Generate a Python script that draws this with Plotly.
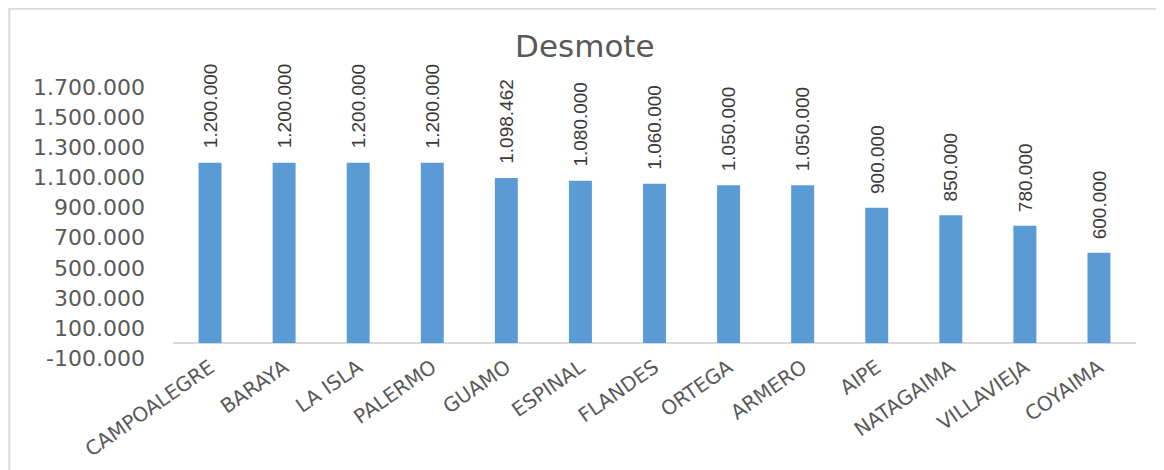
import plotly.graph_objects as go

municipios = [
    "CAMPOALEGRE", "BARAYA", "LA ISLA", "PALERMO", "GUAMO", "ESPINAL",
    "FLANDES", "ORTEGA", "ARMERO", "AIPE", "NATAGAIMA", "VILLAVIEJA", "COYAIMA",
]
desmote = [
    1200000, 1200000, 1200000, 1200000, 1098462, 1080000,
    1060000, 1050000, 1050000, 900000, 850000, 780000, 600000,
]
y_ticks = [-100000, 100000, 300000, 500000, 700000, 900000,
           1100000, 1300000, 1500000, 1700000]


def fmt(v):
    # miles con punto, como en el original
    return f"{v:,}".replace(",", ".")


bar_color = "#5B9BD5"
text_gray = "#595959"

fig = go.Figure()
fig.add_trace(
    go.Bar(
        x=municipios,
        y=desmote,
        marker_color=bar_color,
        marker_line_width=0,
        hovertemplate="%{x}: %{y:,.0f}<extra></extra>",
    )
)

# etiquetas de datos verticales sobre cada barra
for m, v in zip(municipios, desmote):
    fig.add_annotation(
        x=m,
        y=v,
        text=fmt(v),
        textangle=-90,
        showarrow=False,
        xanchor="center",
        yanchor="bottom",
        yshift=12,
        font=dict(family="Liberation Sans", size=19, color="#3a3a3a"),
    )

# the page body adds an 8px offset, so the figure is a bit smaller
fig.update_layout(
    width=1156,
    height=462,
    separators=",.",
    paper_bgcolor="white",
    plot_bgcolor="white",
    showlegend=False,
    bargap=0.69,
    margin=dict(l=165, r=28, t=72, b=112, autoexpand=False),
    title=dict(
        text="Desmote",
        x=0.499,
        xref="container",
        xanchor="center",
        y=0.918,
        yref="container",
        yanchor="middle",
        font=dict(family="DejaVu Sans", size=31, color=text_gray),
    ),
    font=dict(family="DejaVu Sans", color=text_gray),
    xaxis=dict(
        tickangle=-35,
        tickfont=dict(size=20, color=text_gray),
        showgrid=False,
        showline=False,
        ticks="",
        ticklabelstandoff=-7,
        automargin=False,
    ),
    yaxis=dict(
        range=[-100000, 1750000],
        tickvals=y_ticks,
        ticktext=[fmt(t) for t in y_ticks],
        tickfont=dict(size=22, color=text_gray),
        showgrid=False,
        zeroline=True,
        zerolinecolor="#d9d9d9",
        zerolinewidth=2,
        ticks="",
        ticklabelstandoff=27,
        automargin=False,
    ),
    shapes=[
        dict(
            type="rect",
            xref="paper",
            yref="paper",
            x0=-0.170,
            x1=1.025,
            y0=-0.42,
            y1=1.256,
            line=dict(color="#d9d9d9", width=2),
            layer="below",
        )
    ],
)

fig.write_html("out.html")
